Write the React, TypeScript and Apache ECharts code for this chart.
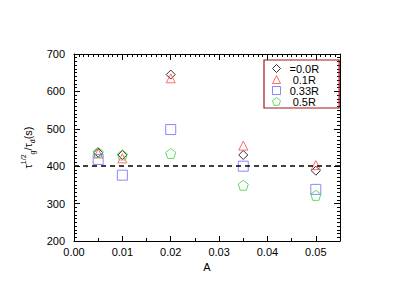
import React, { useEffect, useRef } from "react";
import * as echarts from "echarts";

const xValues = [0.005, 0.01, 0.02, 0.035, 0.05];
const seriesNames = ["=0.0R", "0.1R", "0.33R", "0.5R"];
const r00 = [436, 430, 645, 430, 388];
const r01 = [434, 421, 635, 455, 403];
const r033 = [418, 376, 498, 400, 338];
const r05 = [437, 430, 434, 349, 322];
const refLine = 400;
const xTicks = { min: 0, max: 0.055, interval: 0.01 };
const yTicks = { min: 200, max: 700, interval: 100 };

const colors = ["#000000", "#ff4848", "#6b6bff", "#3ccf3c"];
const pentagon = "path://M0,-10 L9.51,-3.09 L5.88,8.09 L-5.88,8.09 L-9.51,-3.09 Z";
const symbols = ["diamond", "triangle", "rect", pentagon];
const sizes = [9, 9, 10, 10];
const legendTextPad = [4, 7.2, 4.2, 7.2];
const allData = [r00, r01, r033, r05];

export default function App() {
  const ref = useRef<HTMLDivElement>(null);
  useEffect(() => {
    if (!ref.current) return;
    const chart = echarts.init(ref.current, null, { renderer: "svg" });
    const font = "Liberation Sans, Arial, sans-serif";
    const axisCommon = {
      axisLine: { show: true, onZero: false, lineStyle: { color: "#000", width: 1 } },
      splitLine: { show: false },
    };
    const series: any[] = allData.map((vals, i) => ({
      name: seriesNames[i],
      type: "scatter",
      symbol: symbols[i],
      symbolSize: sizes[i],
      itemStyle: { color: "rgba(0,0,0,0)", borderColor: colors[i], borderWidth: 1 },
      data: vals.map((v, j) => [xValues[j], v]),
      z: 3,
    }));
    series[0].markLine = {
      silent: true,
      symbol: "none",
      label: { show: false },
      lineStyle: { color: "#000", type: [5, 4], width: 1.5 },
      data: [{ yAxis: refLine }],
    };
    chart.setOption({
      animation: false,
      textStyle: { fontFamily: font },
      grid: { left: 74, right: 75, top: 54, bottom: 56 },
      legend: {
        orient: "vertical",
        left: 264,
        top: 60,
        padding: [3, 20, 1, 8],
        itemGap: 0,
        itemWidth: 8,
        itemHeight: 8,
        borderColor: "#a01818",
        borderWidth: 1.2,
        itemStyle: { borderWidth: 1 },
        textStyle: {
          fontFamily: font,
          fontSize: 11,
          color: "#000",
          lineHeight: 9,
        },
        data: seriesNames.map((n, i) => ({
          name: n,
          textStyle: { padding: [0, 0, 0, legendTextPad[i]] },
        })),
      },
      xAxis: [
        {
          ...axisCommon,
          type: "value",
          position: "bottom",
          min: xTicks.min,
          max: xTicks.max,
          interval: xTicks.interval,
          name: "A",
          nameLocation: "middle",
          nameGap: 20,
          nameTextStyle: { fontSize: 11, color: "#000", fontFamily: font },
          axisTick: { show: true, inside: true, length: 5, lineStyle: { color: "#000" } },
          minorTick: { show: true, splitNumber: 2, length: 3, lineStyle: { color: "#000" } },
          axisLabel: {
            fontSize: 11,
            color: "#000",
            margin: 5,
            showMaxLabel: false,
            formatter: (v: number) => v.toFixed(2),
          },
        },
        {
          ...axisCommon,
          type: "value",
          position: "top",
          min: xTicks.min,
          max: xTicks.max,
          interval: xTicks.interval,
          axisTick: { show: true, inside: true, length: 6, lineStyle: { color: "#000" } },
          minorTick: { show: true, splitNumber: 10, length: 3, lineStyle: { color: "#000" } },
          axisLabel: { show: false },
        },
      ],
      yAxis: [
        {
          ...axisCommon,
          type: "value",
          position: "left",
          min: yTicks.min,
          max: yTicks.max,
          interval: yTicks.interval,
          name: "τ{sup|1/2}{sub|g}/τ{sub|d}(s)",
          nameLocation: "middle",
          nameRotate: 90,
          nameGap: 36,
          nameTextStyle: {
            fontSize: 11,
            color: "#000",
            fontFamily: font,
            rich: {
              sup: { fontSize: 7, verticalAlign: "top", lineHeight: 16, color: "#000", fontFamily: font },
              sub: { fontSize: 7, verticalAlign: "bottom", lineHeight: 16, color: "#000", fontFamily: font },
            },
          },
          axisTick: { show: true, inside: true, length: 6, lineStyle: { color: "#000" } },
          minorTick: { show: true, splitNumber: 10, length: 3, lineStyle: { color: "#000" } },
          axisLabel: { fontSize: 11, color: "#000", margin: 9 },
        },
        {
          ...axisCommon,
          type: "value",
          position: "right",
          min: yTicks.min,
          max: yTicks.max,
          interval: yTicks.interval,
          axisTick: { show: true, inside: true, length: 6, lineStyle: { color: "#000" } },
          minorTick: { show: true, splitNumber: 10, length: 3, lineStyle: { color: "#000" } },
          axisLabel: { show: false },
        },
      ],
      series,
    });
    return () => chart.dispose();
  }, []);
  return (
    <div
      ref={ref}
      style={{ position: "fixed", left: 0, top: 0, width: 415, height: 297, background: "#fff" }}
    />
  );
}
